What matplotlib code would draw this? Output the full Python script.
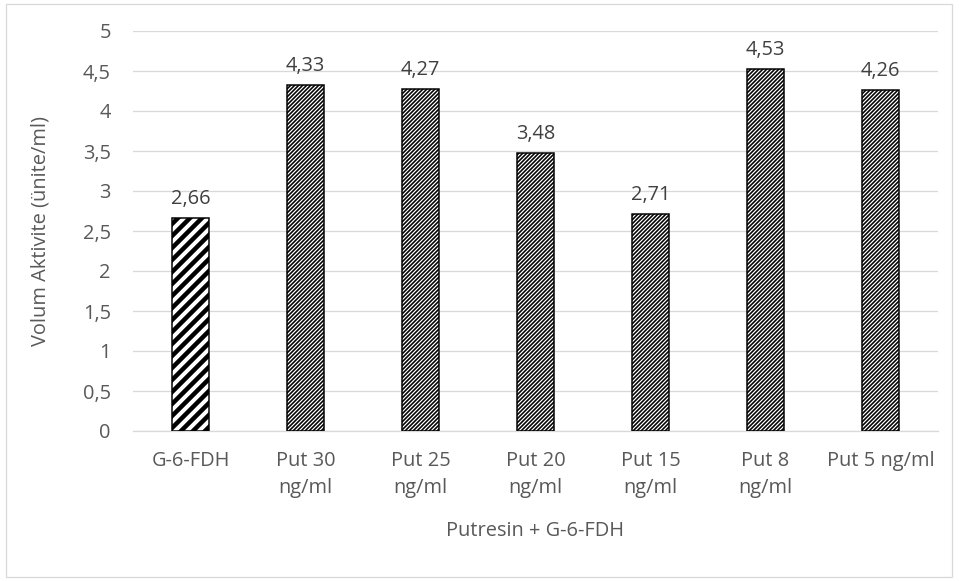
import numpy as np
import matplotlib.pyplot as plt
from matplotlib.patches import Rectangle
from matplotlib.ticker import FuncFormatter

categories = ["G-6-FDH", "Put 30\nng/ml", "Put 25\nng/ml", "Put 20\nng/ml",
              "Put 15\nng/ml", "Put 8\nng/ml", "Put 5 ng/ml"]
values = [2.66, 4.33, 4.27, 3.48, 2.71, 4.53, 4.26]
hatches = ["//", "//////", "//////", "//////", "//////", "//////", "//////"]
hatch_widths = [4.5, 1.6, 1.6, 1.6, 1.6, 1.6, 1.6]

grey = "#595959"
plt.rcParams["font.family"] = ["Open Sans", "DejaVu Sans"]
fs = 20

dpi = 72
fig = plt.figure(figsize=(959 / dpi, 581 / dpi), dpi=dpi)
ax = fig.add_axes([133 / 959, 150 / 581, 805 / 959, 400 / 581])

x = np.arange(len(categories))
for i in range(len(values)):
    with plt.rc_context({"hatch.linewidth": hatch_widths[i]}):
        b = ax.bar(x[i], values[i], width=0.32, color="white", edgecolor="black",
                   linewidth=1.5, hatch=hatches[i], zorder=3)
        if hasattr(b[0], "set_hatch_linewidth"):
            b[0].set_hatch_linewidth(hatch_widths[i])
    ax.annotate(f"{values[i]:.2f}".replace(".", ","), (x[i], values[i]),
                xytext=(0, 9), textcoords="offset points", ha="center",
                va="bottom", fontsize=fs, color="#404040")

ax.set_xlim(-0.5, len(categories) - 0.5)
ax.set_ylim(0, 5)
ax.set_yticks(np.arange(0, 5.01, 0.5))
ax.yaxis.set_major_formatter(FuncFormatter(lambda v, p: f"{v:g}".replace(".", ",")))
ax.grid(axis="y", color="#d9d9d9", linewidth=1.3, zorder=0)
ax.set_axisbelow(True)
for s in ["top", "right", "left"]:
    ax.spines[s].set_visible(False)
ax.spines["bottom"].set_color("#d9d9d9")
ax.spines["bottom"].set_linewidth(1.3)

ax.set_xticks(x)
ax.set_xticklabels(categories, fontsize=fs, color=grey, va="top", linespacing=1.5)
ax.tick_params(axis="x", length=0, pad=20)
ax.tick_params(axis="y", length=0, pad=22, labelsize=fs, labelcolor=grey)

ax.set_xlabel("Putresin + G-6-FDH", fontsize=fs, color=grey, labelpad=22)
ax.set_ylabel("Volum Aktivite (ünite/ml)", fontsize=fs, color=grey, labelpad=32)

fig.patches.append(Rectangle((6 / 959, 4 / 581), 946 / 959, 573 / 581,
                             transform=fig.transFigure, fill=False,
                             edgecolor="#d9d9d9", linewidth=1.3))

fig.savefig("out.png", dpi=dpi)
